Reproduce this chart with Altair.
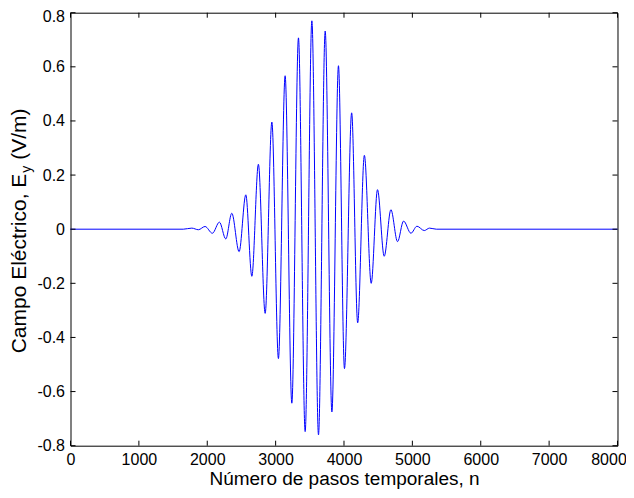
import altair as alt
import pandas as pd

# Local extrema of the pulse (time step n, field E)
n_steps = [0, 1650, 1774, 1870, 1968, 2075, 2178, 2271, 2359, 2466, 2564, 2652,
           2748, 2847, 2945, 3041, 3139, 3237, 3334, 3432, 3530, 3627, 3725, 3823,
           3919, 4007, 4112, 4200, 4298, 4398, 4490, 4588, 4686, 4783, 4871, 4979,
           5067, 5174, 5251, 5350, 8000]
e_field = [0, 0, 0.004, -0.002, 0.010, -0.015, 0.026, -0.036, 0.059, -0.083, 0.127, -0.174,
           0.240, -0.311, 0.396, -0.478, 0.567, -0.643, 0.707, -0.748, 0.770, -0.760, 0.732, -0.675,
           0.604, -0.515, 0.430, -0.346, 0.273, -0.200, 0.146, -0.100, 0.072, -0.046, 0.030, -0.015,
           0.011, -0.005, 0.004, 0, 0]

x_ticks = [0, 1000, 2000, 3000, 4000, 5000, 6000, 7000, 8000]
y_ticks = [-0.8, -0.6, -0.4, -0.2, 0, 0.2, 0.4, 0.6, 0.8]

W, H = 547, 433
FONT = "Liberation Sans"
TICK = 5

df = pd.DataFrame({"n": n_steps, "E": e_field})
xs = alt.Scale(domain=[0, 8000], nice=False, zero=False)
ys = alt.Scale(domain=[-0.8, 0.8], nice=False)

line = alt.Chart(df).mark_line(color="#0000FF", strokeWidth=1, interpolate="monotone").encode(
    x=alt.X("n:Q", scale=xs,
            axis=alt.Axis(values=x_ticks, format="d", title="Número de pasos temporales, n",
                          titleFontSize=19, titleFontWeight="normal", titleFont=FONT,
                          titlePadding=2, labelPadding=6, labelFlush=False, labelOverlap=False,
                          labelOffset={"condition": {"test": "datum.value == 8000", "value": -9},
                                       "value": 0})),
    y=alt.Y("E:Q", scale=ys,
            axis=alt.Axis(values=y_ticks, title=None, labelPadding=6, labelFlush=False,
                          labelOverlap=False,
                          labelOffset={"condition": {"test": "datum.value > 0.75", "value": 4},
                                       "value": 0},
                          labelExpr="datum.value == 0 ? '0' : replace(format(datum.value, '.1f'), '\u2212', '-')")),
)

xt = pd.DataFrame({"n": x_ticks})
yt = pd.DataFrame({"E": y_ticks})

xb = alt.Chart(xt).mark_rule(color="black", strokeWidth=1).encode(
    x=alt.X("n:Q", scale=xs), y=alt.value(H), y2=alt.value(H - TICK))
xtop = alt.Chart(xt).mark_rule(color="black", strokeWidth=1).encode(
    x=alt.X("n:Q", scale=xs), y=alt.value(0), y2=alt.value(TICK))
yl = alt.Chart(yt).mark_rule(color="black", strokeWidth=1).encode(
    y=alt.Y("E:Q", scale=ys), x=alt.value(0), x2=alt.value(TICK))
yr = alt.Chart(yt).mark_rule(color="black", strokeWidth=1).encode(
    y=alt.Y("E:Q", scale=ys), x=alt.value(W), x2=alt.value(W - TICK))

one = pd.DataFrame({"a": [0]})
t1 = alt.Chart(one).mark_text(text="Campo Eléctrico, E", angle=270, align="right", baseline="middle",
                              fontSize=21, font=FONT, color="black").encode(
    x=alt.value(-50.5), y=alt.value(161))
t2 = alt.Chart(one).mark_text(text="y", angle=270, align="left", baseline="middle",
                              fontSize=14, font=FONT, color="black").encode(
    x=alt.value(-44), y=alt.value(160))
t3 = alt.Chart(one).mark_text(text="(V/m)", angle=270, align="left", baseline="middle",
                              fontSize=21, font=FONT, color="black").encode(
    x=alt.value(-50.5), y=alt.value(147))

chart = alt.layer(line, xb, xtop, yl, yr, t1, t2, t3).properties(
    width=W, height=H, background="white",
    autosize=alt.AutoSizeParams(type="none"),
    padding={"left": 62.5, "top": 4.7, "right": 8.5, "bottom": 44},
).configure_view(stroke="black", strokeWidth=1).configure_axis(
    domain=False, grid=False, ticks=False, labelFont=FONT, labelFontSize=16,
    labelColor="black", titleColor="black",
)

chart.save("out.html", embed_options={"renderer": "svg", "actions": False})
